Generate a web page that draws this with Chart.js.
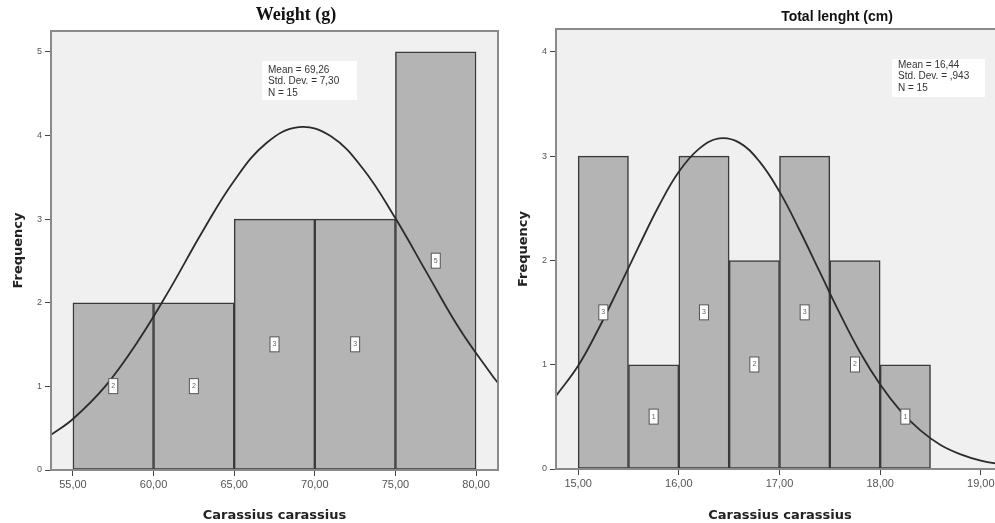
<!DOCTYPE html>
<html>
<head>
    <title>Carassius carassius histograms</title>
    <script src="https://cdn.jsdelivr.net/npm/chart.js@4.4.1/dist/chart.umd.min.js"></script>
    <style>
        * { margin: 0; padding: 0; box-sizing: border-box; }
        body {
            width: 995px;
            height: 523px;
            overflow: hidden;
            background: #fff;
            position: relative;
        }
        canvas { position: absolute; top: 0; }
        #weightChart { left: 0; }
        #lengthChart { left: 505px; }
    </style>
</head>
<body>
    <canvas id="weightChart" width="505" height="523"></canvas>
    <canvas id="lengthChart" width="505" height="523"></canvas>

    <script>
        // Weight (g)
        const weightBins = [57.5, 62.5, 67.5, 72.5, 77.5];
        const weightCounts = [2, 2, 3, 3, 5];
        const weightTicks = [55, 60, 65, 70, 75, 80];
        const weightFreqTicks = [0, 1, 2, 3, 4, 5];
        const weightCurveX = [53.64, 55, 57, 59, 61, 63, 65, 67, 69, 71, 73, 75, 77, 79, 81, 81.36];
        const weightCurveY = [0.42, 0.61, 1.00, 1.53, 2.16, 2.84, 3.46, 3.91, 4.10, 3.99, 3.60, 3.01, 2.34, 1.68, 1.13, 1.04];
        const weightStats = ['Mean = 69,26', 'Std. Dev. = 7,30', 'N = 15'];

        // Total lenght (cm)
        const lengthBins = [15.25, 15.75, 16.25, 16.75, 17.25, 17.75, 18.25];
        const lengthCounts = [3, 1, 3, 2, 3, 2, 1];
        const lengthTicks = [15, 16, 17, 18, 19];
        const lengthFreqTicks = [0, 1, 2, 3, 4];
        const lengthCurveX = [14.78, 15.0, 15.2, 15.4, 15.6, 15.8, 16.0, 16.2, 16.4, 16.6, 16.8, 17.0, 17.2, 17.4, 17.6, 17.8, 18.0, 18.2, 18.4, 18.6, 18.8, 19.0, 19.23];
        const lengthCurveY = [0.70, 0.99, 1.34, 1.73, 2.13, 2.52, 2.85, 3.07, 3.17, 3.13, 2.95, 2.66, 2.29, 1.89, 1.49, 1.12, 0.81, 0.56, 0.37, 0.23, 0.14, 0.08, 0.04];
        const lengthStats = ['Mean = 16,44', 'Std. Dev. = ,943', 'N = 15'];

        // plot background + frame, title, stats box, count boxes
        const spssPlugin = {
            id: 'spss',
            beforeDraw(chart) {
                const a = chart.chartArea;
                const ctx = chart.ctx;
                ctx.save();
                ctx.fillStyle = '#f0f0f0';
                ctx.fillRect(a.left, a.top, a.right - a.left, a.bottom - a.top);
                ctx.restore();
            },
            afterDatasetsDraw(chart, args, opts) {
                const a = chart.chartArea;
                const ctx = chart.ctx;
                ctx.save();

                // count boxes in the middle of each bar
                const meta = chart.getDatasetMeta(1);
                ctx.font = '7px "Liberation Sans", Arial, sans-serif';
                ctx.textAlign = 'center';
                ctx.textBaseline = 'middle';
                meta.data.forEach((bar, i) => {
                    const cy = (bar.y + bar.base) / 2;
                    ctx.fillStyle = '#fff';
                    ctx.fillRect(bar.x - 4.5, cy - 7.5, 9, 15);
                    ctx.strokeStyle = '#555';
                    ctx.lineWidth = 1;
                    ctx.strokeRect(bar.x - 4.5, cy - 7.5, 9, 15);
                    ctx.fillStyle = '#666';
                    ctx.fillText(String(chart.data.datasets[1].data[i].y), bar.x, cy);
                });

                // frame
                ctx.strokeStyle = '#8a8a8a';
                ctx.lineWidth = 2;
                ctx.strokeRect(a.left, a.top, a.right - a.left, a.bottom - a.top);

                // stats box
                const s = opts.stats;
                ctx.fillStyle = '#fff';
                ctx.fillRect(s.x, s.y, s.w, s.h);
                ctx.fillStyle = '#333';
                ctx.font = '10px "Liberation Sans", Arial, sans-serif';
                ctx.textAlign = 'left';
                ctx.textBaseline = 'middle';
                s.lines.forEach((t, i) => ctx.fillText(t, s.tx, s.ty + i * 11.5));

                // chart title
                ctx.fillStyle = '#111';
                ctx.font = opts.titleFont;
                ctx.textAlign = 'center';
                ctx.fillText(opts.title, opts.titleX, opts.titleY);
                ctx.restore();
            }
        };

        const fmt2 = v => v.toFixed(2).replace('.', ',');

        function makeChart(id, cfg) {
            return new Chart(document.getElementById(id), {
                type: 'bar',
                data: {
                    datasets: [{
                        type: 'line',
                        data: cfg.curveX.map((x, i) => ({ x: x, y: cfg.curveY[i] })),
                        borderColor: '#2b2b2b',
                        borderWidth: 1.8,
                        pointRadius: 0,
                        tension: 0.4,
                        fill: false,
                        order: 0
                    }, {
                        type: 'bar',
                        data: cfg.bins.map((x, i) => ({ x: x, y: cfg.counts[i] })),
                        backgroundColor: '#b4b4b4',
                        borderColor: '#3a3a3a',
                        borderWidth: 1.5,
                        borderSkipped: false,
                        barPercentage: 1,
                        categoryPercentage: 1,
                        order: 1
                    }]
                },
                options: {
                    responsive: false,
                    animation: false,
                    layout: { padding: { top: cfg.top, right: cfg.padRight, left: 0, bottom: 0 } },
                    plugins: {
                        legend: { display: false },
                        tooltip: { enabled: false },
                        spss: {
                            stats: cfg.stats,
                            title: cfg.title,
                            titleFont: cfg.titleFont,
                            titleX: cfg.titleX,
                            titleY: cfg.titleY
                        }
                    },
                    scales: {
                        x: {
                            type: 'linear',
                            offset: false,
                            min: cfg.xMin,
                            max: cfg.xMax,
                            afterBuildTicks: s => { s.ticks = cfg.xTicks.map(v => ({ value: v })); },
                            afterFit: s => { s.height = cfg.xHeight; },
                            border: { display: false },
                            grid: { offset: false, drawOnChartArea: false, drawTicks: true, tickLength: 6, color: '#444', lineWidth: 1 },
                            ticks: {
                                color: '#555',
                                padding: 2,
                                maxRotation: 0,
                                autoSkip: false,
                                font: { family: '"Liberation Sans", Arial, sans-serif', size: 11 },
                                callback: v => fmt2(v)
                            },
                            title: {
                                display: true,
                                text: 'Carassius carassius',
                                color: '#222',
                                padding: { top: 4, bottom: 0 },
                                font: { family: '"DejaVu Sans", sans-serif', size: 13, weight: 'bold' }
                            }
                        },
                        y: {
                            min: 0,
                            max: cfg.yMax,
                            afterBuildTicks: s => { s.ticks = cfg.yTicks.map(v => ({ value: v })); },
                            afterFit: s => { s.width = 51; },
                            border: { display: false },
                            grid: { drawOnChartArea: false, drawTicks: true, tickLength: 6, color: '#444', lineWidth: 1 },
                            ticks: {
                                color: '#555',
                                padding: 3,
                                font: { family: '"Liberation Sans", Arial, sans-serif', size: 9 }
                            },
                            title: {
                                display: true,
                                text: 'Frequency',
                                color: '#222',
                                padding: { top: 11, bottom: 0 },
                                font: { family: '"DejaVu Sans", sans-serif', size: 13, weight: 'bold' }
                            }
                        }
                    }
                },
                plugins: [spssPlugin]
            });
        }

        makeChart('weightChart', {
            bins: weightBins, counts: weightCounts,
            curveX: weightCurveX, curveY: weightCurveY,
            xTicks: weightTicks, yTicks: weightFreqTicks,
            xMin: 53.64, xMax: 81.36, yMax: 5.25,
            top: 31, padRight: 7, xHeight: 53,
            title: 'Weight (g)', titleFont: 'bold 18px "Liberation Serif", "Times New Roman", serif',
            titleX: 296, titleY: 15,
            stats: { x: 262, y: 61, w: 95, h: 39, tx: 268, ty: 70, lines: weightStats }
        });

        makeChart('lengthChart', {
            bins: lengthBins, counts: lengthCounts,
            curveX: lengthCurveX, curveY: lengthCurveY,
            xTicks: lengthTicks, yTicks: lengthFreqTicks,
            xMin: 14.78, xMax: 19.23, yMax: 4.22,
            top: 29, padRight: 6, xHeight: 54,
            title: 'Total lenght (cm)', titleFont: 'bold 14px "Liberation Sans", Arial, sans-serif',
            titleX: 332, titleY: 17,
            stats: { x: 387, y: 59, w: 93, h: 38, tx: 393, ty: 65, lines: lengthStats }
        });
    </script>
</body>
</html>
